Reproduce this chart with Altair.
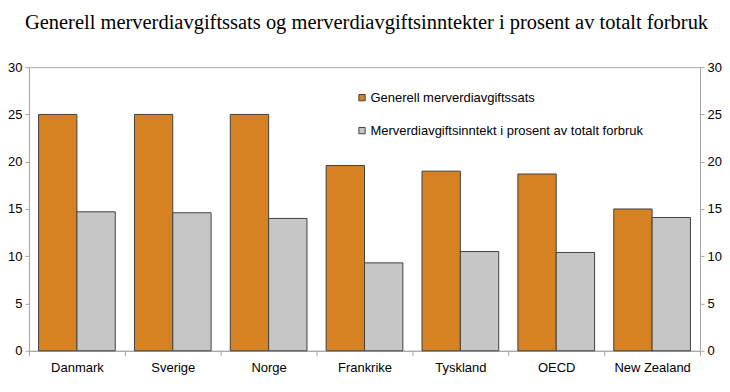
import altair as alt
import pandas as pd

title_text = ["Generell merverdiavgiftssats og merverdiavgiftsinntekter i prosent av totalt forbruk"]
countries = ["Danmark", "Sverige", "Norge", "Frankrike", "Tyskland", "OECD", "New Zealand"]
series = ["Generell merverdiavgiftssats", "Merverdiavgiftsinntekt i prosent av totalt forbruk"]
rate = [25.0, 25.0, 25.0, 19.6, 19.0, 18.7, 15.0]
revenue = [14.7, 14.6, 14.0, 9.3, 10.5, 10.4, 14.1]
y_ticks = [0, 5, 10, 15, 20, 25, 30]
colors = ["#D68223", "#C6C6C6"]

rows = []
for c, a, b in zip(countries, rate, revenue):
    rows.append({"land": c, "serie": series[0], "verdi": a})
    rows.append({"land": c, "serie": series[1], "verdi": b})
df = pd.DataFrame(rows)
df_title = pd.DataFrame({"tittel": title_text})

AX = "#A6A6A6"
FONT = "Liberation Sans"

x = alt.X("land:N", sort=countries, title=None,
          scale=alt.Scale(paddingInner=0, paddingOuter=0),
          axis=alt.Axis(labelAngle=0, labelFont=FONT, labelFontSize=13, labelColor="black",
                        domainColor=AX, tickColor=AX, tickSize=5, tickBand="extent",
                        labelPadding=6))

bars = alt.Chart(df).mark_bar(stroke="#404040", strokeWidth=1).encode(
    x=x,
    xOffset=alt.XOffset("serie:N", sort=series,
                        scale=alt.Scale(paddingInner=0, paddingOuter=0.25)),
    y=alt.Y("verdi:Q", title=None,
            scale=alt.Scale(domain=[0, 30], nice=False),
            axis=alt.Axis(values=y_ticks, grid=False, labelFont=FONT, labelFontSize=13,
                          labelColor="black", domainColor=AX, tickColor=AX, tickSize=4,
                          labelPadding=3)),
    color=alt.Color("serie:N", sort=series,
                    scale=alt.Scale(domain=series, range=colors),
                    legend=alt.Legend(title=None, orient="none", legendX=327, legendY=24,
                                      symbolType="square", symbolSize=40,
                                      symbolStrokeColor="#404040", symbolStrokeWidth=1,
                                      labelFont=FONT, labelFontSize=13, labelColor="black",
                                      labelOffset=2, rowPadding=19, labelLimit=500)),
)

right = alt.Chart(df).mark_bar(opacity=0).encode(
    x=alt.X("land:N", sort=countries),
    y=alt.Y("verdi:Q", title=None,
            scale=alt.Scale(domain=[0, 30], nice=False),
            axis=alt.Axis(orient="right", values=y_ticks, grid=False, labelFont=FONT,
                          labelFontSize=13, labelColor="black", domainColor=AX,
                          tickColor=AX, tickSize=4, labelPadding=3)),
)

title = alt.Chart(df_title).mark_text(
    font="Liberation Serif", fontSize=20.5, color="black", align="center",
    baseline="alphabetic", clip=False,
).encode(text="tittel:N", x=alt.value(338), y=alt.value(-38))

chart = alt.layer(bars, right, title).resolve_scale(y="independent").properties(
    width=672,
    height=284,
    autosize=alt.AutoSizeParams(type="none"),
    padding={"left": 21, "top": 59, "right": 22, "bottom": 33},
).configure_view(stroke=AX, strokeWidth=1)

chart.save("out.html", embed_options={"renderer": "svg", "actions": False})
